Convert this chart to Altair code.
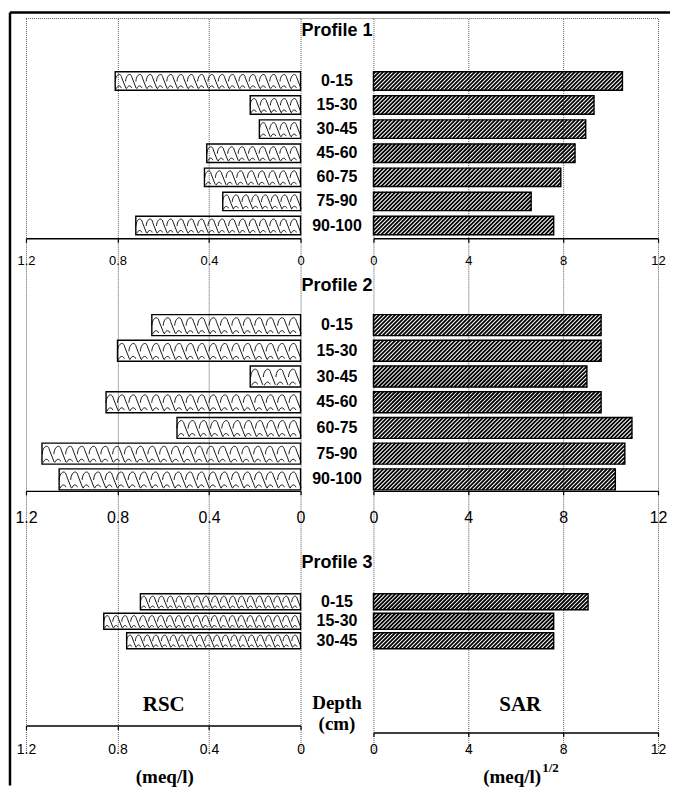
import altair as alt
import pandas as pd

# ---------------- data ----------------
DEPTHS = ["0-15", "15-30", "30-45", "45-60", "60-75", "75-90", "90-100"]
PROFILES = ["Profile 1", "Profile 2", "Profile 3"]

RSC_P1 = [0.81, 0.22, 0.18, 0.41, 0.42, 0.34, 0.72]
SAR_P1 = [10.5, 9.3, 8.95, 8.5, 7.9, 6.65, 7.6]
RSC_P2 = [0.65, 0.80, 0.22, 0.85, 0.54, 1.13, 1.055]
SAR_P2 = [9.6, 9.6, 9.0, 9.6, 10.9, 10.6, 10.2]
RSC_P3 = [0.70, 0.86, 0.76]
SAR_P3 = [9.05, 7.6, 7.6]

RSC_TICKS = [0, 0.4, 0.8, 1.2]
SAR_TICKS = [0, 4, 8, 12]

# ---------------- layout ----------------
ROWS = 30          # vertical extent in "row" units
ROW_PX = 24.5      # pixels per row unit
H = ROWS * ROW_PX
W_RSC, W_MID, W_SAR = 275, 73, 285
# title row, first bar row, row step, bar thickness (row units)
LAYOUT = {
    "Profile 1": (0.49, 2.55, 0.985, 0.755),
    "Profile 2": (10.94, 12.53, 1.051, 0.857),
    "Profile 3": (22.24, 23.84, 0.796, 0.653),
}

SANS = "Liberation Sans"
NARROW = "Liberation Sans Narrow, Liberation Sans, sans-serif"
SERIF = "Liberation Serif"
GRID = "#5a5a5a"

series = {
    "Profile 1": (DEPTHS, RSC_P1, SAR_P1),
    "Profile 2": (DEPTHS, RSC_P2, SAR_P2),
    "Profile 3": (DEPTHS[:3], RSC_P3, SAR_P3),
}

rows = []
for p in PROFILES:
    depths, rsc, sar = series[p]
    _, first, step, thick = LAYOUT[p]
    for i, (d, r, s) in enumerate(zip(depths, rsc, sar)):
        yc = first + i * step
        rows.append(dict(profile=p, depth=d, rsc=r, sar=s, yc=yc,
                         y0=yc - thick / 2, y1=yc + thick / 2, thick=thick))
bars = pd.DataFrame(rows)

titles = pd.DataFrame([dict(label=p, yc=LAYOUT[p][0]) for p in PROFILES])

# ---- hatch lines for SAR bars (diagonal "/" pattern) ----
px_sar = W_SAR / 12.0
hatch = []
for r in rows:
    v = r["sar"]
    hpx = r["thick"] * ROW_PX
    d = hpx / px_sar
    s = 4.0 / px_sar
    x0 = -d + s * 0.5
    while x0 < v:
        t0 = max(0.0, -x0 / d)
        t1 = min(1.0, (v - x0) / d)
        if t1 > t0:
            hatch.append(dict(xa=x0 + t0 * d, xb=x0 + t1 * d,
                              ya=r["y1"] - t0 * r["thick"], yb=r["y1"] - t1 * r["thick"]))
        x0 += s
hatch = pd.DataFrame(hatch)

# ---- shingle tiles for RSC bars ----
px_rsc = W_RSC / 1.2
tiles = []
for r in rows:
    v = r["rsc"]
    rad = r["thick"] * ROW_PX / 2
    period = 1.1 * rad / px_rsc
    n = max(1, round(v / period))
    pp = v / n
    for k in range(n):
        tiles.append(dict(x=(k + 0.5) * pp, yc=r["yc"], sz=(2 * rad) ** 2))
tiles = pd.DataFrame(tiles)

WAVE = ("M -0.55 0.05 C -0.5 -0.75 0.05 -0.95 0.15 -0.35 L 0.6 0.8 "
        "M -0.45 0.85 C -0.3 0.45 0.0 0.45 0.1 0.75")

yscale = alt.Scale(domain=[ROWS, 0], nice=False, zero=False)
rsc_scale = alt.Scale(domain=[1.2, 0], nice=False, zero=False)
sar_scale = alt.Scale(domain=[0, 12], nice=False, zero=False)


def make_axis(values, offset, pad, size, grid):
    return alt.Axis(orient="bottom", offset=offset, values=values, format="~g",
                    grid=grid, gridDash=[1, 1], gridColor=GRID, gridWidth=1,
                    domainColor="black", domainWidth=1.4, tickColor="black",
                    tickSize=4, tickWidth=1.2, labelFont=NARROW, labelFontSize=size,
                    labelColor="black", labelPadding=pad, title=None,
                    labelFlush=False, labelOverlap=False)


one = pd.DataFrame({"a": [0]})


def top_dots(w):
    return alt.Chart(one).mark_rule(color=GRID, strokeDash=[1, 1], strokeWidth=1).encode(
        x=alt.value(0), x2=alt.value(w), y=alt.value(0))


# ---------------- RSC column ----------------
rsc_base = alt.Chart(bars)
rsc_layers = [
    rsc_base.mark_rect(fillOpacity=0, stroke="black", strokeWidth=1.4).encode(
        x=alt.X("rsc:Q", scale=rsc_scale, axis=make_axis(RSC_TICKS, -515, 12, 13, True)),
        x2=alt.datum(0),
        y=alt.Y("y0:Q", scale=yscale, axis=None), y2="y1:Q"),
    alt.Chart(tiles).mark_point(shape=WAVE, filled=False, color="black", strokeWidth=0.9, opacity=1).encode(
        x=alt.X("x:Q", scale=rsc_scale, axis=None),
        y=alt.Y("yc:Q", scale=yscale, axis=None),
        size=alt.Size("sz:Q", scale=None)),
    rsc_base.mark_rule(opacity=0).encode(
        x=alt.X("rsc:Q", scale=rsc_scale, axis=make_axis(RSC_TICKS, -262, 15, 16, False))),
    rsc_base.mark_rule(opacity=0).encode(
        x=alt.X("rsc:Q", scale=rsc_scale, axis=make_axis(RSC_TICKS, -27, 13, 14, False))),
    top_dots(W_RSC),
    alt.Chart(one).mark_text(text="RSC", font=SERIF, fontWeight="bold", fontSize=21,
                             baseline="middle", align="center", color="black").encode(
        x=alt.value(138), y=alt.value(687)),
    alt.Chart(one).mark_text(text="(meq/l)", font=SERIF, fontWeight="bold", fontSize=19,
                             baseline="middle", align="center", color="black").encode(
        x=alt.value(139), y=alt.value(760)),
    # figure frame (left and top border)
    alt.Chart(one).mark_rule(color="black", strokeWidth=2.5).encode(
        x=alt.value(-16), y=alt.value(-6), y2=alt.value(768)),
    alt.Chart(one).mark_rule(color="black", strokeWidth=2.5).encode(
        x=alt.value(-16), x2=alt.value(645), y=alt.value(-6)),
]
rsc_chart = alt.layer(*rsc_layers).properties(width=W_RSC, height=H).resolve_axis(x="independent")

# ---------------- middle column (labels) ----------------
mid_layers = [
    top_dots(W_MID),
    alt.Chart(titles).mark_text(font=SANS, fontWeight="bold", fontSize=18, baseline="middle",
                                align="center", color="black").encode(
        x=alt.value(W_MID / 2), y=alt.Y("yc:Q", scale=yscale, axis=None), text="label:N"),
    alt.Chart(bars).mark_text(font=SANS, fontWeight="bold", fontSize=16, baseline="middle",
                              align="center", color="black").encode(
        x=alt.value(W_MID / 2), y=alt.Y("yc:Q", scale=yscale, axis=None), text="depth:N"),
    alt.Chart(one).mark_text(text="Depth", font=SERIF, fontWeight="bold", fontSize=19,
                             baseline="middle", align="center", color="black").encode(
        x=alt.value(W_MID / 2), y=alt.value(685)),
    alt.Chart(one).mark_text(text="(cm)", font=SERIF, fontWeight="bold", fontSize=19,
                             baseline="middle", align="center", color="black").encode(
        x=alt.value(W_MID / 2), y=alt.value(707)),
]
mid_chart = alt.layer(*mid_layers).properties(width=W_MID, height=H)

# ---------------- SAR column ----------------
sar_base = alt.Chart(bars)
sar_layers = [
    sar_base.mark_rect(fillOpacity=0, stroke="black", strokeWidth=1.4).encode(
        x=alt.X("sar:Q", scale=sar_scale, axis=make_axis(SAR_TICKS, -515, 12, 13, True)),
        x2=alt.datum(0),
        y=alt.Y("y0:Q", scale=yscale, axis=None), y2="y1:Q"),
    alt.Chart(hatch).mark_rule(color="#000000", strokeWidth=1.8).encode(
        x=alt.X("xa:Q", scale=sar_scale, axis=None), x2="xb:Q",
        y=alt.Y("ya:Q", scale=yscale, axis=None), y2="yb:Q"),
    sar_base.mark_rule(opacity=0).encode(
        x=alt.X("sar:Q", scale=sar_scale, axis=make_axis(SAR_TICKS, -262, 15, 16, False))),
    sar_base.mark_rule(opacity=0).encode(
        x=alt.X("sar:Q", scale=sar_scale, axis=make_axis(SAR_TICKS, -20, 6, 14, False))),
    top_dots(W_SAR),
    alt.Chart(one).mark_text(text="SAR", font=SERIF, fontWeight="bold", fontSize=21,
                             baseline="middle", align="center", color="black").encode(
        x=alt.value(147), y=alt.value(687)),
    alt.Chart(one).mark_text(text="(meq/l)", font=SERIF, fontWeight="bold", fontSize=19,
                             baseline="middle", align="right", color="black").encode(
        x=alt.value(168), y=alt.value(760)),
    alt.Chart(one).mark_text(text="1/2", font=SERIF, fontWeight="bold", fontSize=13,
                             baseline="middle", align="left", color="black").encode(
        x=alt.value(169), y=alt.value(751)),
]
sar_chart = alt.layer(*sar_layers).properties(width=W_SAR, height=H).resolve_axis(x="independent")

chart = alt.hconcat(rsc_chart, mid_chart, sar_chart, spacing=0, bounds="flush").properties(
    padding={"left": 0, "top": 2, "right": 0, "bottom": 0},
    background="white",
).configure_view(strokeWidth=0)

chart.save("out.html", embed_options={"renderer": "svg", "actions": False})
